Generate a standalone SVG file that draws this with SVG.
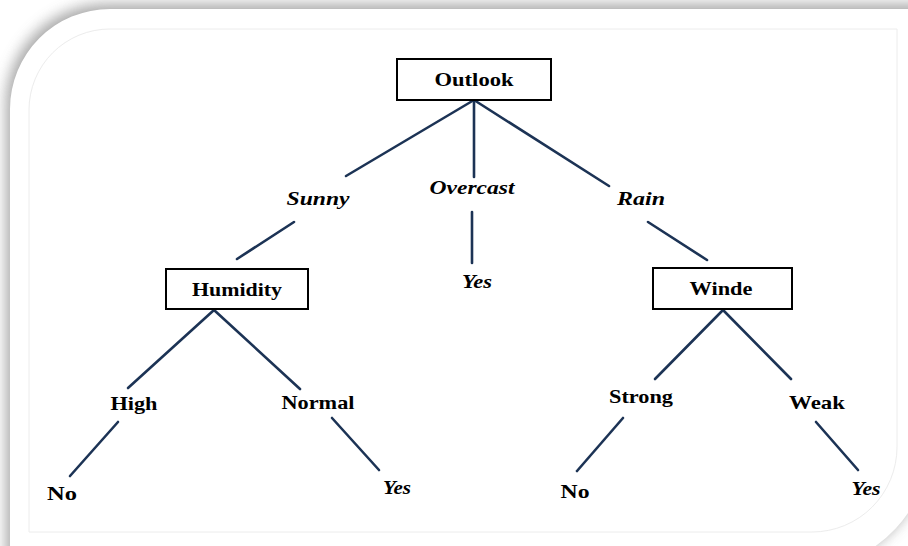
<svg xmlns="http://www.w3.org/2000/svg" width="908" height="546" viewBox="0 0 908 546">
  <defs>
    <filter id="shadow" x="-10%" y="-10%" width="120%" height="120%">
      <feGaussianBlur stdDeviation="7"/>
    </filter>
  </defs>
  <style>
    .frame { fill: #ffffff; }
    .inner { fill: none; stroke: #ececec; stroke-width: 1; }
    .box { fill: #ffffff; stroke: #000000; stroke-width: 2; }
    .edge { stroke: #1c3355; stroke-width: 2.6; stroke-linecap: round; fill: none; }
    .t { font-family: "Liberation Serif", "Times New Roman", serif; font-weight: bold; font-size: 19px; fill: #000000; text-anchor: middle; }
    .it { font-style: italic; }
  </style>

  <rect x="0" y="0" width="908" height="546" fill="#ffffff"/>
  <!-- frame shadow -->
  <path d="M 6,570 L 6,105 A 100 100 0 0 1 106,4 L 930,4 L 930,432 A 134 134 0 0 1 792,570 Z" fill="#8c8c8c" opacity="0.75" filter="url(#shadow)"/>
  <!-- frame -->
  <path class="frame" d="M 10,570 L 10,109 A 100 100 0 0 1 110,9 L 930,9 L 930,430 A 130 130 0 0 1 800,570 Z"/>
  <path class="inner" d="M 29,532 L 29,110 A 81 81 0 0 1 110,29 L 897,29 L 897,447 A 85 85 0 0 1 812,532 Z"/>

  <g id="connectors">
    <line class="edge" x1="474" y1="100" x2="346" y2="176"/>
    <line class="edge" x1="294" y1="222" x2="237" y2="259"/>
    <line class="edge" x1="474" y1="100" x2="474" y2="177"/>
    <line class="edge" x1="472" y1="212" x2="472" y2="263"/>
    <line class="edge" x1="474" y1="100" x2="609" y2="186"/>
    <line class="edge" x1="648" y1="222" x2="707" y2="260"/>
    <line class="edge" x1="214" y1="310" x2="128" y2="388"/>
    <line class="edge" x1="214" y1="310" x2="300" y2="389"/>
    <line class="edge" x1="118" y1="422" x2="70" y2="476"/>
    <line class="edge" x1="332" y1="418" x2="379" y2="470"/>
    <line class="edge" x1="723" y1="310" x2="655" y2="379"/>
    <line class="edge" x1="723" y1="310" x2="791" y2="379"/>
    <line class="edge" x1="623" y1="418" x2="577" y2="471"/>
    <line class="edge" x1="816" y1="422" x2="858" y2="470"/>
  </g>

  <g id="outlook">
    <rect class="box" x="397" y="59" width="154" height="41"/>
    <text class="t" x="474" y="86" textLength="79" lengthAdjust="spacingAndGlyphs">Outlook</text>
  </g>
  <g id="sunny">
    <text class="t it" x="318" y="205" textLength="63" lengthAdjust="spacingAndGlyphs">Sunny</text>
  </g>
  <g id="overcast">
    <text class="t it" x="472" y="194" textLength="85" lengthAdjust="spacingAndGlyphs">Overcast</text>
  </g>
  <g id="rain">
    <text class="t it" x="641" y="205" textLength="48" lengthAdjust="spacingAndGlyphs">Rain</text>
  </g>
  <g id="humidity">
    <rect class="box" x="166" y="269" width="142" height="40"/>
    <text class="t" x="237" y="296" textLength="90" lengthAdjust="spacingAndGlyphs">Humidity</text>
  </g>
  <g id="yes-overcast">
    <text class="t it" x="477" y="288" textLength="30" lengthAdjust="spacingAndGlyphs">Yes</text>
  </g>
  <g id="winde">
    <rect class="box" x="653" y="268" width="139" height="41"/>
    <text class="t" x="721" y="295" textLength="63" lengthAdjust="spacingAndGlyphs">Winde</text>
  </g>
  <g id="high">
    <text class="t" x="134" y="410" textLength="47" lengthAdjust="spacingAndGlyphs">High</text>
  </g>
  <g id="normal">
    <text class="t" x="318" y="409" textLength="73" lengthAdjust="spacingAndGlyphs">Normal</text>
  </g>
  <g id="no-high">
    <text class="t" x="62" y="500" textLength="30" lengthAdjust="spacingAndGlyphs">No</text>
  </g>
  <g id="yes-normal">
    <text class="t it" x="397" y="494" textLength="28" lengthAdjust="spacingAndGlyphs">Yes</text>
  </g>
  <g id="strong">
    <text class="t" x="641" y="403" textLength="64" lengthAdjust="spacingAndGlyphs">Strong</text>
  </g>
  <g id="weak">
    <text class="t" x="817" y="409" textLength="56" lengthAdjust="spacingAndGlyphs">Weak</text>
  </g>
  <g id="no-strong">
    <text class="t" x="575" y="498" textLength="29" lengthAdjust="spacingAndGlyphs">No</text>
  </g>
  <g id="yes-weak">
    <text class="t it" x="866" y="495" textLength="29" lengthAdjust="spacingAndGlyphs">Yes</text>
  </g>
</svg>
